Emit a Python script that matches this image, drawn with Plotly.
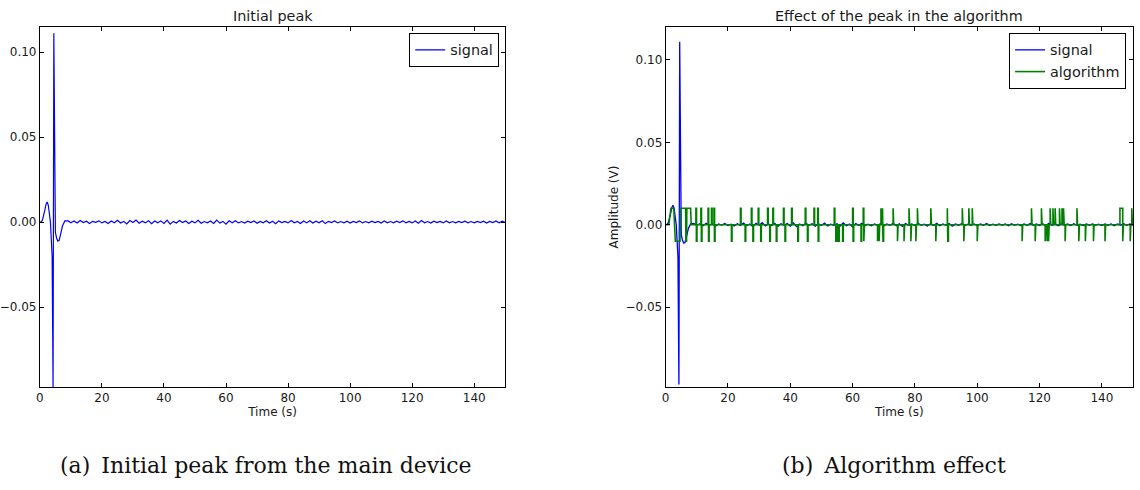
import numpy as np
import plotly.graph_objects as go

# ---------------- data ----------------
# signal: initial transient (time s, amplitude V)
sig_head_t = [0.0, 0.4, 0.8, 1.2, 1.6, 2.0, 2.35, 2.7, 3.0, 3.4, 3.95, 4.25, 4.5,
              5.0, 5.4, 5.8, 6.2, 6.5, 6.9, 7.3, 7.7, 8.1, 8.5]
sig_head_v = [0.0, 0.0002, 0.001, 0.0035, 0.007, 0.0105, 0.0118, 0.010, 0.0065, 0.0, -0.020, -0.097, 0.111,
              -0.006, -0.0095, -0.0112, -0.0108, -0.0090, -0.0055, -0.0022, -0.0002, 0.0008, 0.0006]
# signal: small residual oscillation, one reading per second from t = 9 s to t = 150 s
sig_tail_start = 9
sig_tail_v = [
    0.0008, -0.0004, 0.0006, -0.0006, 0.0009, -0.0003, 0.0005, -0.0009, 0.0004, -0.0002,
    0.0007, -0.0005, 0.0003, -0.0008, 0.0006, -0.0004, 0.0010, -0.0006, 0.0004, -0.0011,
    0.0009, -0.0003, 0.0012, -0.0007, 0.0005, -0.0005, 0.0008, -0.0010, 0.0006, -0.0004,
    0.0007, -0.0008, 0.0011, -0.0012, 0.0004, -0.0006, 0.0009, -0.0003, 0.0006, -0.0009,
    0.0005, -0.0005, 0.0010, -0.0007, 0.0003, -0.0004, 0.0006, -0.0008, 0.0011, -0.0006,
    0.0004, -0.0013, 0.0007, -0.0004, 0.0008, -0.0005, 0.0003, -0.0006, 0.0005, -0.0003,
    0.0006, -0.0007, 0.0004, -0.0004, 0.0008, -0.0006, 0.0005, -0.0010, 0.0007, -0.0003,
    0.0004, -0.0005, 0.0009, -0.0004, 0.0003, -0.0008, 0.0006, -0.0005, 0.0008, -0.0006,
    0.0005, -0.0004, 0.0007, -0.0009, 0.0004, -0.0003, 0.0006, -0.0005, 0.0003, -0.0004,
    0.0005, -0.0006, 0.0004, -0.0003, 0.0007, -0.0005, 0.0003, -0.0004, 0.0005, -0.0003,
    0.0004, -0.0006, 0.0006, -0.0004, 0.0003, -0.0005, 0.0005, -0.0003, 0.0007, -0.0004,
    0.0004, -0.0005, 0.0006, -0.0007, 0.0009, -0.0004, 0.0003, -0.0006, 0.0005, -0.0003,
    0.0004, -0.0005, 0.0006, -0.0004, 0.0003, -0.0005, 0.0004, -0.0003, 0.0005, -0.0004,
    0.0003, -0.0005, 0.0004, -0.0003, 0.0005, -0.0006, 0.0004, -0.0003, 0.0006, -0.0004,
    0.0005, -0.0003,
]

# algorithm output: initial segment (time s, level V)
alg_head_t = [0.0, 1.0, 1.7, 2.6, 3.1, 4.6, 4.8, 6.4, 6.5, 6.7, 6.8, 8.0, 8.2]
alg_head_v = [0.0, 0.0, 0.01, 0.01, -0.01, -0.01, 0.01, 0.01, -0.01, -0.01, 0.01, 0.01, 0.0]
# algorithm output: later pulses (start time s, level V, duration s)
alg_pulse_t = [9.7, 9.85, 11.3, 11.45, 13.6, 13.75, 14.7, 15.5, 15.65, 21.1, 24.0, 25.5, 27.5, 28.0,
               29.7, 30.5, 32.7, 33.4, 34.4, 35.5, 37.8, 38.3, 40.4, 42.4, 44.8, 45.5, 47.6, 48.8, 48.95,
               54.1, 54.6, 55.5, 56.8, 60.0, 60.15, 62.7, 63.4, 63.6, 68.0, 68.5, 69.1, 69.6, 69.75,
               73.0, 74.4, 76.5, 78.1, 78.7, 80.3, 80.8, 85.1, 86.7, 90.4, 90.55, 95.2, 95.7,
               97.3, 98.4, 100.0, 114.4, 117.4, 118.6, 120.6, 121.8, 122.4, 122.9, 123.4, 124.3,
               125.0, 126.4, 127.2, 127.7, 128.2, 132.0, 132.6, 134.7, 137.3, 141.0, 145.8, 146.7,
               149.1, 149.6]
alg_pulse_v = [0.01, -0.01, 0.01, -0.01, 0.01, -0.01, 0.01, 0.01, -0.01, -0.01, 0.01, -0.01, 0.01, -0.01,
               0.01, -0.01, 0.01, -0.01, 0.01, -0.01, 0.01, -0.01, 0.01, -0.01, 0.01, -0.01, 0.01, 0.01, -0.01,
               0.01, -0.01, -0.01, -0.01, 0.01, -0.01, -0.01, 0.01, -0.01, -0.01, -0.01, 0.01, 0.01, -0.01,
               0.01, -0.01, -0.01, 0.01, -0.01, -0.01, 0.01, 0.01, -0.01, 0.01, -0.01, 0.01, -0.01,
               0.01, 0.01, -0.01, -0.01, 0.01, -0.01, 0.01, -0.01, -0.01, -0.01, 0.01, 0.01,
               0.01, 0.01, 0.01, 0.01, -0.01, 0.01, -0.01, -0.01, -0.01, -0.01, 0.01, -0.01,
               -0.01, 0.01]
alg_pulse_d = [0.2] * len(alg_pulse_t)
alg_pulse_d[alg_pulse_t.index(54.6)] = 0.5
alg_pulse_d[alg_pulse_t.index(145.8)] = 0.9

x_ticks = [0, 20, 40, 60, 80, 100, 120, 140]
y_ticks = [-0.05, 0.0, 0.05, 0.10]
y_tick_labels = ["\u22120.05", "0.00", "0.05", "0.10"]

titles = ["Initial peak", "Effect of the peak in the algorithm"]
captions = ["(a)\u2002Initial peak from the main device", "(b)\u2002Algorithm effect"]

# ---------------- build series ----------------
sig_t = list(sig_head_t) + list(np.arange(sig_tail_start, sig_tail_start + len(sig_tail_v)))
sig_v = list(sig_head_v) + list(sig_tail_v)

alg_t = list(alg_head_t)
alg_v = list(alg_head_v)
for t, v, d in zip(alg_pulse_t, alg_pulse_v, alg_pulse_d):
    alg_t += [t, t, t + d, t + d]
    alg_v += [0.0, v, v, 0.0]
alg_t.append(150.0)
alg_v.append(0.0)

# ---------------- figure ----------------
W, H = 1140, 490
BLUE = "#0000ff"
GREEN = "#008000"
TXT = "#1a1a1a"
FONT = "DejaVu Sans"

fig = go.Figure()
fig.add_trace(go.Scatter(x=sig_t, y=sig_v, mode="lines", name="signal",
                         line=dict(color=BLUE, width=1.2), xaxis="x", yaxis="y",
                         legend="legend"))
fig.add_trace(go.Scatter(x=sig_t, y=sig_v, mode="lines", name="signal",
                         line=dict(color=BLUE, width=1.3), xaxis="x2", yaxis="y2",
                         legend="legend2"))
fig.add_trace(go.Scatter(x=alg_t, y=alg_v, mode="lines", name="algorithm",
                         line=dict(color=GREEN, width=1.6), xaxis="x2", yaxis="y2",
                         legend="legend2"))

def px_x(p):
    return p / W

def px_y(p):
    return 1 - p / H

axis_common = dict(showline=True, linecolor="black", linewidth=1, mirror="ticks",
                   ticks="inside", ticklen=4, tickwidth=1, tickcolor="black",
                   showgrid=False, zeroline=False,
                   tickfont=dict(family=FONT, size=12, color=TXT))

xd1 = [px_x(36), px_x(503)]
xd2 = [px_x(664), px_x(1133)]
yd = [px_y(387), px_y(27)]

fig.update_layout(
    width=W, height=H,
    margin=dict(l=0, r=0, t=0, b=0),
    paper_bgcolor="white", plot_bgcolor="white",
    font=dict(family=FONT, size=12, color=TXT),
    xaxis=dict(domain=xd1, range=[0, 150], tickvals=x_ticks, anchor="y",
               title=dict(text="Time (s)", standoff=3, font=dict(size=12)), **axis_common),
    yaxis=dict(domain=yd, range=[-0.097, 0.1147], tickvals=y_ticks, ticktext=y_tick_labels,
               anchor="x", **axis_common),
    xaxis2=dict(domain=xd2, range=[0, 150], tickvals=x_ticks, anchor="y2",
                title=dict(text="Time (s)", standoff=3, font=dict(size=12)), **axis_common),
    yaxis2=dict(domain=yd, range=[-0.0985, 0.12], tickvals=y_ticks, ticktext=y_tick_labels,
                anchor="x2", title=dict(text="Amplitude (V)", standoff=4, font=dict(size=12)),
                **axis_common),
    legend=dict(x=px_x(497), y=px_y(33), xanchor="right", yanchor="top",
                bordercolor="black", borderwidth=1, bgcolor="white",
                font=dict(family=FONT, size=14.4, color=TXT), itemwidth=30),
    legend2=dict(x=px_x(1126), y=px_y(33), xanchor="right", yanchor="top",
                 bordercolor="black", borderwidth=1, bgcolor="white",
                 font=dict(family=FONT, size=14.4, color=TXT), itemwidth=30),
    showlegend=True,
)

annotations = [
    dict(text=titles[0], x=(xd1[0] + xd1[1]) / 2, y=px_y(16), xref="paper", yref="paper",
         showarrow=False, font=dict(family=FONT, size=14.4, color=TXT),
         xanchor="center", yanchor="middle"),
    dict(text=titles[1], x=(xd2[0] + xd2[1]) / 2, y=px_y(16), xref="paper", yref="paper",
         showarrow=False, font=dict(family=FONT, size=14.4, color=TXT),
         xanchor="center", yanchor="middle"),
    dict(text=captions[0], x=px_x(263), y=px_y(465), xref="paper", yref="paper",
         showarrow=False, font=dict(family="DejaVu Serif", size=22, color="#111"),
         xanchor="center", yanchor="middle"),
    dict(text=captions[1], x=px_x(893), y=px_y(465), xref="paper", yref="paper",
         showarrow=False, font=dict(family="DejaVu Serif", size=22, color="#111"),
         xanchor="center", yanchor="middle"),
]
fig.update_layout(annotations=annotations)

fig.write_html("out.html")
